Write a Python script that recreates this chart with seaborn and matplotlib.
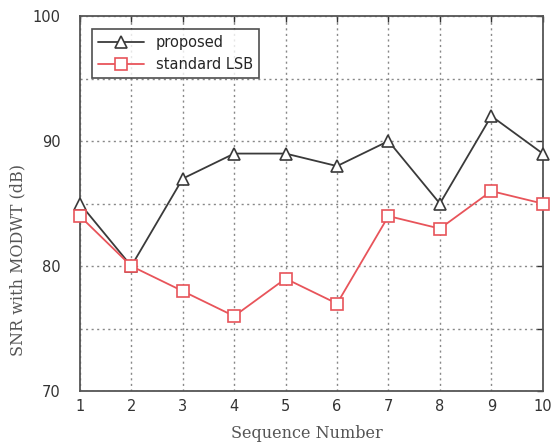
import matplotlib
matplotlib.use("Agg")
import matplotlib.pyplot as plt
import seaborn as sns
import pandas as pd

seq = [1, 2, 3, 4, 5, 6, 7, 8, 9, 10]
proposed = [85, 80, 87, 89, 89, 88, 90, 85, 92, 89]
standard_lsb = [84, 80, 78, 76, 79, 77, 84, 83, 86, 85]
series_names = ["proposed", "standard LSB"]
ytick_vals = [70, 75, 80, 85, 90, 95, 100]
ytick_labels = ["70", "", "80", "", "90", "", "100"]

sns.set_style("white")
plt.rcParams['font.family'] = ['DejaVu Sans']

fig = plt.figure(figsize=(5.51, 4.45), dpi=100)
ax = fig.add_axes([0.145, 0.121, 0.840, 0.843])

df = pd.DataFrame({"seq": seq, "proposed": proposed, "standard LSB": standard_lsb})
sns.lineplot(data=df, x="seq", y="proposed", ax=ax, color="#3a3a3a", lw=1.3,
             marker="^", ms=9, mfc="white", mec="#3a3a3a", mew=1.2,
             label=series_names[0], clip_on=False, zorder=3)
sns.lineplot(data=df, x="seq", y="standard LSB", ax=ax, color="#e8545a", lw=1.3,
             marker="s", ms=8, mfc="white", mec="#e8545a", mew=1.2,
             label=series_names[1], clip_on=False, zorder=4)

ax.set_xlim(1, 10)
ax.set_ylim(70, 100)
ax.set_xticks(seq)
ax.set_yticks(ytick_vals)
ax.set_yticklabels(ytick_labels)
ax.tick_params(direction="in", length=4, top=True, right=True, labelsize=10.5,
               colors="#333333", width=1)
ax.tick_params(axis="y", pad=14)
ax.tick_params(axis="x", pad=6)
ax.grid(True, linestyle=(0, (1.5, 2.5)), color="#888888", lw=1)
for s in ax.spines.values():
    s.set_color("#555555")
    s.set_linewidth(1.3)

ax.set_xlabel("Sequence Number", family="DejaVu Serif", fontsize=11.5, color="#555555")
ax.set_ylabel("SNR with MODWT (dB)", family="DejaVu Serif", fontsize=11.5, color="#555555")
ax.yaxis.set_label_coords(-0.115, 0.35)
ax.xaxis.set_label_coords(0.49, -0.09)

leg = ax.legend(loc="upper left", fontsize=10.5, frameon=True, fancybox=False,
                edgecolor="#222222", handlelength=3.2, borderpad=0.4,
                bbox_to_anchor=(0.01, 0.985))
leg.get_frame().set_linewidth(1.2)

fig.savefig("out.png", dpi=100)
